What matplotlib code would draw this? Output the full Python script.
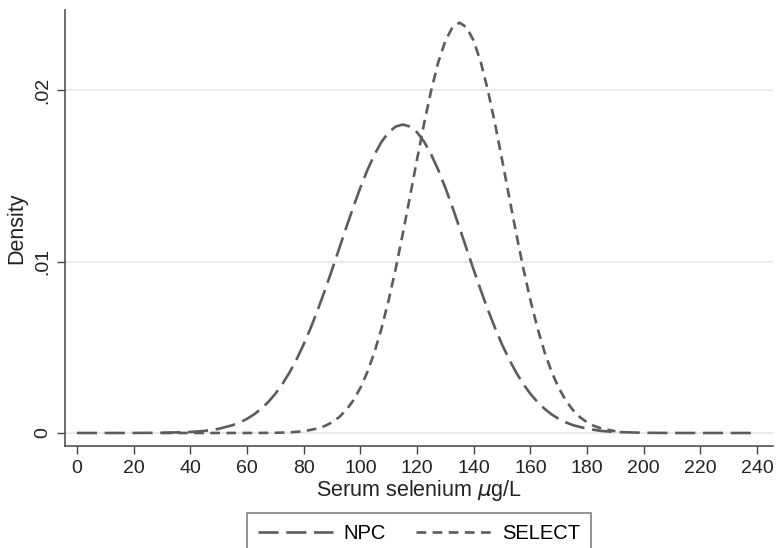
import matplotlib
matplotlib.use("Agg")
import matplotlib.pyplot as plt

plt.rcParams['font.family'] = ['Liberation Sans', 'DejaVu Sans']
plt.rcParams['lines.scale_dashes'] = False

# Serum selenium (µg/L) grid and density
npc_x = [0, 10, 20, 30, 40, 45, 50, 55, 57.5, 60, 62.5, 65, 67.5, 70, 72.5, 75, 77.5,
         80, 82.5, 85, 87.5, 90, 92.5, 95, 97.5, 100, 102.5, 105, 107.5, 110, 112.5,
         115, 117.5, 120, 122.5, 125, 127.5, 130, 132.5, 135, 137.5, 140, 142.5, 145,
         147.5, 150, 152.5, 155, 157.5, 160, 162.5, 165, 167.5, 170, 172.5, 175, 180,
         185, 190, 200, 210, 220, 230, 240]
npc_y = [0.0, 0.0, 0.000002, 0.0000115, 0.000058, 0.000122, 0.000243, 0.000459,
         0.000619, 0.000825, 0.001085, 0.001409, 0.001807, 0.002286, 0.002858,
         0.003526, 0.004298, 0.005169, 0.00614, 0.007199, 0.008333, 0.009525,
         0.010752, 0.01198, 0.013182, 0.01432, 0.015359, 0.01626, 0.017007, 0.01756,
         0.017896, 0.01801, 0.017896, 0.01756, 0.017007, 0.01626, 0.015359, 0.01432,
         0.013182, 0.01198, 0.010752, 0.009525, 0.008333, 0.007199, 0.00614,
         0.005169, 0.004298, 0.003526, 0.002858, 0.002286, 0.001807, 0.001409,
         0.001085, 0.000825, 0.000619, 0.000459, 0.000243, 0.000122, 0.000058,
         0.0000115, 0.0, 0.0, 0.0, 0.0]

select_x = [30, 40, 50, 60, 65, 70, 75, 80, 85, 87.5, 90, 92.5, 95, 97.5, 100, 102.5,
            105, 107.5, 110, 112.5, 115, 117.5, 120, 122.5, 125, 127.5, 130, 132.5,
            135, 137.5, 140, 142.5, 145, 147.5, 150, 152.5, 155, 157.5, 160, 162.5,
            165, 167.5, 170, 172.5, 175, 177.5, 180, 182.5, 185, 190]
select_y = [0.0, 0.0, 0.0, 0.000001, 0.0000035, 0.0000118, 0.0000361, 0.000102,
            0.000264, 0.00041, 0.000622, 0.000922, 0.001337, 0.001896, 0.00263,
            0.003566, 0.004728, 0.006125, 0.007763, 0.009615, 0.01165, 0.013791,
            0.01597, 0.018075, 0.02001, 0.021648, 0.0229, 0.02369, 0.02396, 0.02369,
            0.0229, 0.021648, 0.02001, 0.018075, 0.01597, 0.013791, 0.01165, 0.009615,
            0.007763, 0.006125, 0.004728, 0.003566, 0.00263, 0.001896, 0.001337,
            0.000922, 0.000622, 0.00041, 0.000264, 0.000102]

x_ticks = list(range(0, 241, 20))
y_ticks = [0, 0.01, 0.02]
y_ticklabels = ['0', '.01', '.02']

col = '#5c5c5c'
fig = plt.figure(figsize=(7.78, 5.48), dpi=100)
ax = fig.add_axes([65/778, 1 - 446/548, 708/778, 436/548])

for y in y_ticks:
    ax.axhline(y, color='#e4e4e4', lw=1.1, zorder=0)

ax.plot(npc_x, npc_y, color=col, lw=1.9, dashes=(14.5, 5.5), label='NPC',
        dash_capstyle='butt')
ax.plot(select_x, select_y, color=col, lw=1.9, dashes=(7.0, 4.6), label='SELECT',
        dash_capstyle='butt')

ax.set_xlim(-4.2, 245.6)
ax.set_ylim(-0.00076, 0.0247)
ax.set_xticks(x_ticks)
ax.set_yticks(y_ticks)
ax.set_yticklabels(y_ticklabels, rotation=90, va='center')
ax.tick_params(direction='out', length=5.8, width=1.0, color='#444444',
               labelsize=14, labelcolor='#222222', pad=4)

for s in ['top', 'right']:
    ax.spines[s].set_visible(False)
for s in ['left', 'bottom']:
    ax.spines[s].set_color('#444444')
    ax.spines[s].set_linewidth(1.1)

ax.set_xlabel('Serum selenium $\\mu$g/L', fontsize=15.5, color='#222222', labelpad=1)
ax.set_ylabel('Density', fontsize=15.5, color='#222222', labelpad=5)

leg = fig.legend(loc='upper center', bbox_to_anchor=(419/778, 1 - 513/548), ncol=2,
                 fontsize=14.5, handlelength=3.7, handletextpad=0.55, columnspacing=1.5,
                 borderpad=0.55, borderaxespad=0, frameon=True, fancybox=False)
leg.get_frame().set_edgecolor('#555555')
leg.get_frame().set_linewidth(1.1)

fig.savefig('out.png', dpi=100)
